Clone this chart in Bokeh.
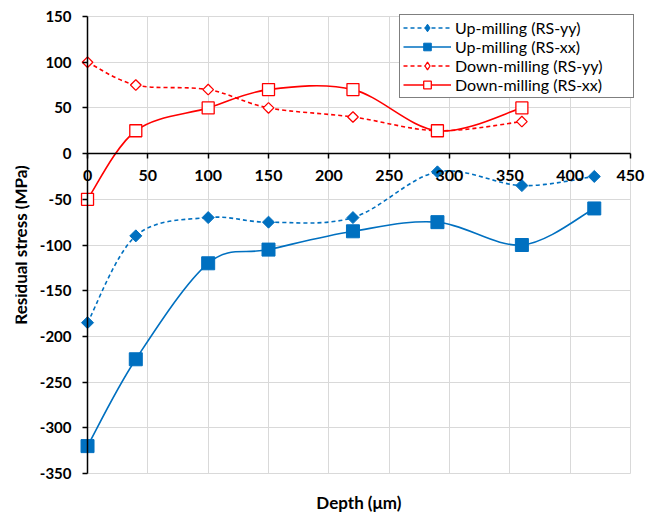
import numpy as np
from bokeh.plotting import figure
from bokeh.models import (LinearAxis, Range1d, Legend, LegendItem, FixedTicker, Label)
from bokeh.embed import file_html
from bokeh.resources import INLINE

# ---- data ----
depth_up = [0, 40, 100, 150, 220, 290, 360, 420]
up_yy = [-185, -90, -70, -75, -70, -20, -35, -25]
up_xx = [-320, -225, -120, -105, -85, -75, -100, -60]
depth_down = [0, 40, 100, 150, 220, 290, 360]
down_yy = [100, 75, 70, 50, 40, 25, 35]
down_xx = [-50, 25, 50, 70, 70, 25, 50]

x_ticks = [0, 50, 100, 150, 200, 250, 300, 350, 400, 450]
y_ticks = [-350, -300, -250, -200, -150, -100, -50, 0, 50, 100, 150]
X_MIN, X_MAX = 0, 450
Y_MIN, Y_MAX = -350, 150

BLUE = "#0070C0"
RED = "#FF0000"
FONT = "Lato"

# frame is larger than the data box so that axis labels/titles are not clipped
X_PAD_L, X_PAD_R = 59.7, 16.6
Y_PAD_T, Y_PAD_B = 13.1, 45.9


def smooth_segments(xs, ys):
    xs = np.asarray(xs, float)
    ys = np.asarray(ys, float)
    n = len(xs)
    d = dict(x0=[], y0=[], x1=[], y1=[], cx0=[], cy0=[], cx1=[], cy1=[])
    for i in range(n - 1):
        a = i - 1 if i > 0 else i
        b = i + 2 if i + 2 < n else i + 1
        d["x0"].append(xs[i]); d["y0"].append(ys[i])
        d["x1"].append(xs[i + 1]); d["y1"].append(ys[i + 1])
        d["cx0"].append(xs[i] + (xs[i + 1] - xs[a]) / 6)
        d["cy0"].append(ys[i] + (ys[i + 1] - ys[a]) / 6)
        d["cx1"].append(xs[i + 1] - (xs[b] - xs[i]) / 6)
        d["cy1"].append(ys[i + 1] - (ys[b] - ys[i]) / 6)
    return d


p = figure(width=655, height=515, output_backend="svg", toolbar_location=None,
           x_range=Range1d(X_MIN - X_PAD_L, X_MAX + X_PAD_R),
           y_range=Range1d(Y_MIN - Y_PAD_B, Y_MAX + Y_PAD_T),
           x_axis_location=None, y_axis_location=None,
           min_border_left=15, min_border_right=5, min_border_top=4,
           min_border_bottom=0)
p.outline_line_color = None
p.background_fill_color = "white"
p.border_fill_color = "white"

# y axis at x = 0
yax = LinearAxis(ticker=FixedTicker(ticks=y_ticks), fixed_location=0,
                 bounds=(Y_MIN, Y_MAX),
                 major_label_overrides={t: str(t) for t in y_ticks})
yax.axis_label = "Residual stress (MPa)"
yax.axis_label_text_font = FONT
yax.axis_label_text_font_style = "bold"
yax.axis_label_text_font_size = "17px"
yax.axis_label_text_color = "black"
yax.axis_label_standoff = 6
yax.major_label_text_font = FONT
yax.major_label_text_font_style = "bold"
yax.major_label_text_font_size = "15px"
yax.major_label_text_color = "black"
yax.major_label_standoff = 11
yax.axis_line_color = "black"
yax.axis_line_width = 1.5
yax.major_tick_line_color = "black"
yax.major_tick_line_width = 1.5
yax.major_tick_out = 5
yax.major_tick_in = 0
yax.minor_tick_line_color = None
p.add_layout(yax, "left")

# x axis crossing at y = 0
xax = LinearAxis(ticker=FixedTicker(ticks=x_ticks), fixed_location=0,
                 bounds=(X_MIN, X_MAX))
xax.major_label_text_font = FONT
xax.major_label_text_font_style = "bold"
xax.major_label_text_font_size = "16px"
xax.major_label_text_color = "black"
xax.major_label_standoff = 11
xax.axis_line_color = "black"
xax.axis_line_width = 1.5
xax.major_tick_line_color = "black"
xax.major_tick_line_width = 1.5
xax.major_tick_out = 5
xax.major_tick_in = 0
xax.minor_tick_line_color = None
p.add_layout(xax, "below")

# x axis title, centred under the data box
p.add_layout(Label(x=(X_MIN + X_MAX) / 2, y=Y_MIN, y_offset=-29, text="Depth (\u03bcm)",
                   text_align="center", text_baseline="middle", text_font=FONT,
                   text_font_style="bold", text_font_size="17px", text_color="black"))

# grids limited to the data box
p.xgrid.ticker = FixedTicker(ticks=x_ticks)
p.ygrid.ticker = FixedTicker(ticks=y_ticks)
p.xgrid.bounds = (X_MIN, X_MAX)
p.xgrid.cross_bounds = (Y_MIN, Y_MAX)
p.ygrid.bounds = (Y_MIN, Y_MAX)
p.ygrid.cross_bounds = (X_MIN, X_MAX)
for g in (p.xgrid, p.ygrid):
    g.grid_line_color = "#d9d9d9"
    g.grid_line_width = 1

DASH = "4 3"
items = []


def bez(xs, ys, color, dash):
    s = smooth_segments(xs, ys)
    return p.bezier(source=s, x0="x0", y0="y0", x1="x1", y1="y1", cx0="cx0",
                    cy0="cy0", cx1="cx1", cy1="cy1", line_color=color,
                    line_width=1.6, line_dash=dash)


b1 = bez(depth_up, up_yy, BLUE, DASH)
p.scatter(depth_up, up_yy, marker="square", angle=np.pi / 4, size=8.5,
          fill_color=BLUE, line_color=BLUE)
l1 = p.scatter(depth_up, up_yy, marker="diamond", fill_color=BLUE, line_color=BLUE,
               visible=False)
items.append(LegendItem(label="Up-milling (RS-yy)", renderers=[b1, l1]))

b2 = bez(depth_up, up_xx, BLUE, "solid")
m2 = p.scatter(depth_up, up_xx, marker="square", size=13,
               fill_color=BLUE, line_color=BLUE)
items.append(LegendItem(label="Up-milling (RS-xx)", renderers=[b2, m2]))

b3 = bez(depth_down, down_yy, RED, DASH)
p.scatter(depth_down, down_yy, marker="square", angle=np.pi / 4, size=7.5,
          fill_color="white", line_color=RED, line_width=1.3)
l3 = p.scatter(depth_down, down_yy, marker="diamond", fill_color="white",
               line_color=RED, line_width=1.3, visible=False)
items.append(LegendItem(label="Down-milling (RS-yy)", renderers=[b3, l3]))

b4 = bez(depth_down, down_xx, RED, "solid")
m4 = p.scatter(depth_down, down_xx, marker="square", size=12,
               fill_color="white", line_color=RED, line_width=1.3)
items.append(LegendItem(label="Down-milling (RS-xx)", renderers=[b4, m4]))

legend = Legend(items=items, location=(384, 417), margin=0, padding=3,
                spacing=0, glyph_width=48, glyph_height=19, label_height=19,
                label_width=175, label_standoff=4, label_text_font=FONT,
                label_text_font_size="16px", label_text_color="black",
                border_line_color="black", border_line_width=1,
                background_fill_color="white", background_fill_alpha=1)
p.add_layout(legend, "center")

open("out.html", "w").write(file_html(p, INLINE))
